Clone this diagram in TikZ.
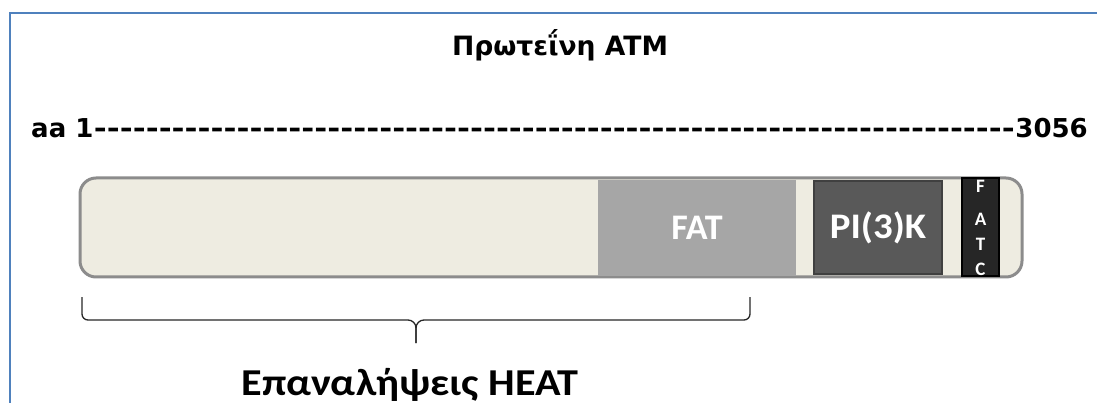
\documentclass[tikz,border=0pt]{standalone}
\usepackage{fontspec}
\setmainfont{Carlito}
\newfontfamily\dvb{DejaVu Sans}[BoldFont={DejaVu Sans Bold}]
\usepackage{graphicx}
\definecolor{framecol}{RGB}{79,129,189}
\definecolor{barfill}{RGB}{238,236,225}
\definecolor{barline}{RGB}{140,140,140}
\definecolor{fatfill}{RGB}{166,166,166}
\definecolor{pifill}{RGB}{89,89,89}
\definecolor{piline}{RGB}{64,64,64}
\definecolor{fatcfill}{RGB}{38,38,38}
\tikzset{
  dombox/.style={inner sep=0pt, outer sep=0pt, text=white, font=\bfseries},
  txtlbl/.style={inner sep=0pt, font=\bfseries},
  bracepath/.style={line width=1.3pt, black!85},
}
\begin{document}
\begin{tikzpicture}[x=1pt,y=-1pt]
\useasboundingbox (0,0) rectangle (1097,403);
% frame
\draw[framecol, line width=1.5pt] (10,403) -- (10,13) -- (1097,13);
% title
\node[txtlbl, anchor=base, font=\dvb\bfseries\fontsize{22}{26}\selectfont] (title) at (560,56) {\resizebox{216pt}{!}{Πρωτεΐνη ATM}};
% aa line
\node[txtlbl, anchor=base west, font=\dvb\bfseries\fontsize{26}{30}\selectfont] (aa) at (31,138) {aa 1};
\node[txtlbl, anchor=base east, font=\dvb\bfseries\fontsize{26}{30}\selectfont] (end) at (1088,138) {3056};
\path (aa.base east) -- (end.base west) node[midway, anchor=base, inner sep=0pt, font=\dvb\bfseries\fontsize{26}{30}\selectfont] (dashes) {\resizebox{921pt}{\height}{\foreach \i in {1,...,71}{\mbox{-}}}};
% bar
\draw[barline, fill=barfill, line width=3pt, rounded corners=16pt] (80,178) rectangle (1022,277);
\node[dombox, fill=fatfill, minimum width=198pt, minimum height=96pt, anchor=north west, font=\bfseries\fontsize{36}{40}\selectfont] (fat) at (598,180) {FAT};
\node[dombox, fill=pifill, draw=piline, line width=2pt, minimum width=128pt, minimum height=93pt, anchor=north west, font=\bfseries\fontsize{36}{40}\selectfont] (pi) at (814,181) {\scalebox{1.08}[1]{PI(3)K}};
\node[dombox, fill=fatcfill, draw=black, line width=2.5pt, minimum width=37pt, minimum height=98pt, anchor=north west] (fatc) at (962,178) {};
\foreach \l/\y in {F/186,A/219,T/244,C/269}
  \node[dombox, font=\bfseries\fontsize{19}{20}\selectfont] (fatc\l) at (980.5,\y) {\l};
% brace
\coordinate (bl) at (82,297);
\coordinate (br) at (750,297);
\coordinate (tip) at (416,343);
\draw[bracepath] (bl) -- (82,314) arc[start angle=180, end angle=90, radius=6] -- (408,320) arc[start angle=-90, end angle=0, radius=8] -- (tip);
\draw[bracepath] (br) -- (750,314) arc[start angle=0, end angle=90, radius=6] -- (424,320) arc[start angle=-90, end angle=-180, radius=8] -- (tip);
\node[txtlbl, anchor=base, font=\bfseries\fontsize{38}{42}\selectfont] (heat) at (410,395) {\scalebox{1.11}[1]{Επαναλήψεις HEAT}};
\end{tikzpicture}
\end{document}
